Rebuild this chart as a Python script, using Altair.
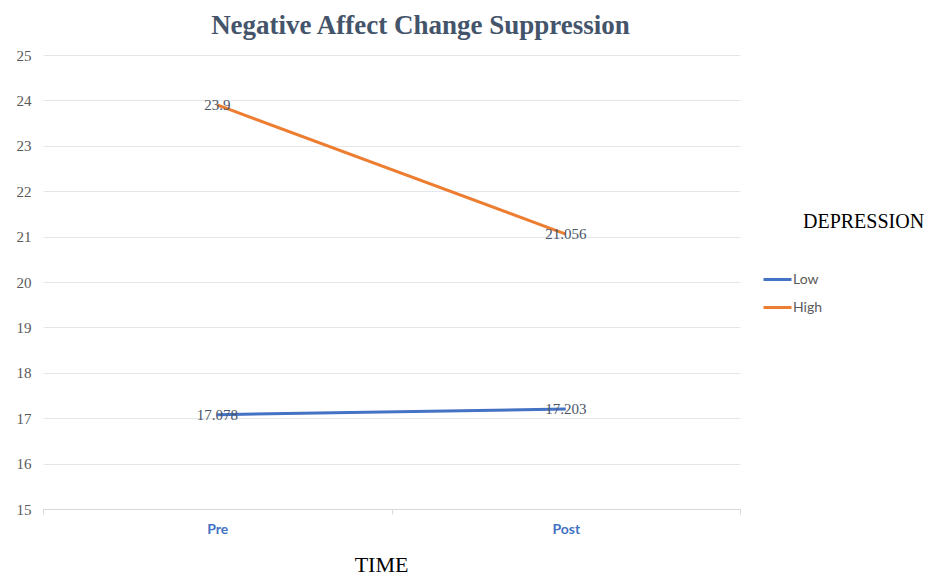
import altair as alt
import pandas as pd

times = ["Pre", "Post"]
groups = ["Low", "High"]
low_values = [17.078, 17.203]
high_values = [23.9, 21.056]
label_low = ["17.078", "17.203"]
label_high = ["23.9", "21.056"]
y_ticks = [15, 16, 17, 18, 19, 20, 21, 22, 23, 24, 25]

rows = []
for t, v, l in zip(times, low_values, label_low):
    rows.append({"TIME": t, "DEPRESSION": "Low", "value": v, "label": l})
for t, v, l in zip(times, high_values, label_high):
    rows.append({"TIME": t, "DEPRESSION": "High", "value": v, "label": l})
df = pd.DataFrame(rows)

SERIF = "Liberation Serif"
SANS = "Lato"

x_enc = alt.X("TIME:N", sort=times, scale=alt.Scale(paddingInner=0, paddingOuter=0),
              axis=alt.Axis(title="TIME", tickBand="extent", labelAngle=0,
                            labelFont=SANS, labelFontWeight="bold", labelFontSize=14,
                            labelColor="#4472C4", labelPadding=8,
                            titleFont=SERIF, titleFontSize=22, titleFontWeight="normal",
                            titleColor="#000000", titleX=338, titleY=62,
                            titleAlign="center", titleBaseline="alphabetic",
                            domainColor="#D9D9D9", tickColor="#D9D9D9", tickSize=5,
                            grid=False))
y_enc = alt.Y("value:Q", scale=alt.Scale(domain=[15, 25], nice=False, zero=False),
              axis=alt.Axis(title=None, values=y_ticks, labelFont=SERIF, labelFontSize=15,
                            labelColor="#595959", labelPadding=12, domain=False, ticks=False,
                            gridColor="#E3E6EA", gridWidth=1))
color_enc = alt.Color("DEPRESSION:N", sort=groups,
                      scale=alt.Scale(domain=groups, range=["#4472C4", "#ED7D31"]),
                      legend=alt.Legend(title=None, orient="none", legendX=719, legendY=209,
                                        symbolType="stroke", symbolSize=784,
                                        symbolStrokeWidth=3, labelFont=SANS,
                                        labelFontSize=14, labelColor="#595959",
                                        labelOffset=0, rowPadding=5))

base = alt.Chart(df)
lines = base.mark_line(strokeWidth=3).encode(x=x_enc, y=y_enc, color=color_enc,
                                             detail="DEPRESSION:N")
labels = base.mark_text(font=SERIF, fontSize=15, color="#4A5468", baseline="middle",
                        align="center").encode(x=alt.X("TIME:N", sort=times), y="value:Q",
                                                text="label:N")
legend_title = alt.Chart(pd.DataFrame({"t": ["DEPRESSION"]})).mark_text(
    font=SERIF, fontSize=20, color="#000000", align="left", baseline="middle"
).encode(text="t:N", x=alt.value(760), y=alt.value(167))

chart = alt.layer(lines, labels, legend_title).properties(
    width=697, height=454,
    autosize=alt.AutoSizeParams(type="none"),
    padding={"left": 35, "top": 47, "right": 189, "bottom": 66},
    title=alt.TitleParams("Negative Affect Change Suppression", font=SERIF, fontSize=27,
                          fontWeight="bold", color="#44546A", anchor="middle",
                          frame="group", dx=29, offset=-13, baseline="alphabetic"),
).configure_view(stroke=None).configure_axis(labelFontWeight="normal")

chart.save("out.html", embed_options={"renderer": "svg", "actions": False})
